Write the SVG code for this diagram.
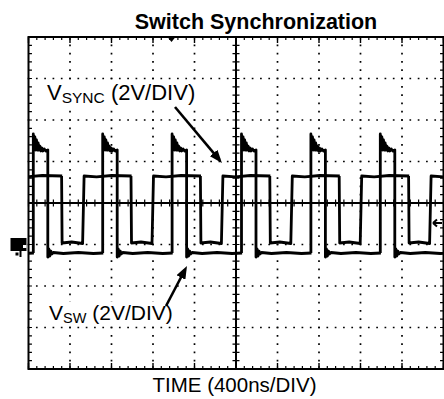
<svg xmlns="http://www.w3.org/2000/svg" xmlns:xlink="http://www.w3.org/1999/xlink" width="444" height="399" viewBox="0 0 444 399">
<style>
.txt{font-family:"Liberation Sans",Arial,sans-serif;fill:#000}
.bord{stroke:#000;stroke-width:2;fill:none}
.dot{stroke:#000;stroke-width:1.7;stroke-dasharray:1.7 6.6;fill:none}
.tick{stroke:#000;stroke-dasharray:1.2 7.1;fill:none}
.maj{stroke:#000;stroke-dasharray:1.4 40.1;fill:none}
.tr{stroke:#000;stroke-width:2.8;fill:none;stroke-linejoin:round}
.conn{stroke:#000;stroke-width:2.6;fill:none}
.bg{fill:#fff}
</style>
<defs>
<clipPath id="scr"><rect x="29" y="30" width="415" height="340"/></clipPath>
<path id="swp" d="M0,253 V134 L0.8,148 L1.6,137 L2.4,150 L3.2,140 L4,150 L4.8,143 L5.6,150 L6.6,146 L7.6,151 L8.6,148 L9.6,151 L11,149 L12.5,151 L14.5,150 L14.5,257 L15.5,249 L16.5,256 L17.5,251 L18.5,254 L20,252.5 L30,253.5 L45,252.5 L60,253.5 L70,253"/>
<path id="syp" d="M0,176 L0.5,243 L10,242 L21,243.5 L22.5,176 L35,176.8 L50,175.5 L70,176"/>
<marker id="ah" viewBox="0 0 13 10" markerWidth="13" markerHeight="10" refX="9" refY="5" orient="auto" markerUnits="userSpaceOnUse">
<path d="M0,0 L13,5 L0,10 z" fill="#000"/>
</marker>
</defs>
<rect x="0" y="0" width="444" height="399" fill="#fff"/>
<g id="graticule">
<g id="grid-dots">
<line class="dot" x1="27.65" y1="78.5" x2="444" y2="78.5"/>
<line class="dot" x1="27.65" y1="120" x2="444" y2="120"/>
<line class="dot" x1="27.65" y1="161.5" x2="444" y2="161.5"/>
<line class="dot" x1="27.65" y1="244.5" x2="444" y2="244.5"/>
<line class="dot" x1="27.65" y1="286" x2="444" y2="286"/>
<line class="dot" x1="27.65" y1="327.5" x2="444" y2="327.5"/>
<line class="dot" x1="70" y1="36.15" x2="70" y2="369"/>
<line class="dot" x1="111.5" y1="36.15" x2="111.5" y2="369"/>
<line class="dot" x1="153" y1="36.15" x2="153" y2="369"/>
<line class="dot" x1="194.5" y1="36.15" x2="194.5" y2="369"/>
<line class="dot" x1="277.5" y1="36.15" x2="277.5" y2="369"/>
<line class="dot" x1="319" y1="36.15" x2="319" y2="369"/>
<line class="dot" x1="360.5" y1="36.15" x2="360.5" y2="369"/>
<line class="dot" x1="402" y1="36.15" x2="402" y2="369"/>
</g>
<g id="border">
<path class="bord" d="M28.5,37 H443.5 V369 H28.5 Z"/>
<line class="tick" stroke-width="3" x1="27.9" y1="38.5" x2="444" y2="38.5"/>
<line class="maj" stroke-width="6" x1="27.8" y1="40" x2="444" y2="40"/>
<line class="tick" stroke-width="3" x1="27.9" y1="367.5" x2="444" y2="367.5"/>
<line class="maj" stroke-width="6" x1="27.8" y1="366" x2="444" y2="366"/>
<line class="tick" stroke-width="3.5" x1="30.2" y1="36.4" x2="30.2" y2="370"/>
<line class="tick" stroke-width="3.5" x1="441.8" y1="36.4" x2="441.8" y2="370"/>
</g>
<g id="center-axes">
<line class="bord" x1="236" y1="37" x2="236" y2="369"/>
<line class="bord" x1="28.5" y1="203" x2="443.5" y2="203"/>
<line class="tick" stroke-width="7" x1="236" y1="36.4" x2="236" y2="370"/>
<line class="tick" stroke-width="7" x1="27.9" y1="203" x2="444" y2="203"/>
</g>
<g id="markers">
<polygon points="167.5,37 175.5,37 171.5,42" fill="#000"/>
<rect x="10.5" y="238" width="16" height="13" fill="#000"/>
<rect x="23" y="245" width="3.5" height="3" fill="#fff"/>
<rect x="15.5" y="252.5" width="3" height="3" fill="#000"/>
<rect x="19.5" y="251" width="2" height="6" fill="#000"/>
<path d="M433,223 L437,219.5 M433,223 L437,226.5 M433,223 H442" stroke="#000" stroke-width="2" fill="none"/>
</g>
</g>
<g id="traces" clip-path="url(#scr)">
<g id="vsync-trace" class="tr">
<use xlink:href="#syp" x="-7.8"/>
<use xlink:href="#syp" x="61.6"/>
<use xlink:href="#syp" x="131"/>
<use xlink:href="#syp" x="200.4"/>
<use xlink:href="#syp" x="269.8"/>
<use xlink:href="#syp" x="339.2"/>
<use xlink:href="#syp" x="408.6"/>
</g>
<g id="vsw-trace" class="tr">
<use xlink:href="#swp" x="-36.1"/>
<use xlink:href="#swp" x="33.3"/>
<use xlink:href="#swp" x="102.7"/>
<use xlink:href="#swp" x="172.1"/>
<use xlink:href="#swp" x="241.5"/>
<use xlink:href="#swp" x="310.9"/>
<use xlink:href="#swp" x="380.3"/>
</g>
</g>
<g id="title"><text class="txt" x="256" y="28.5" font-size="21.5" font-weight="bold" text-anchor="middle">Switch Synchronization</text></g>
<g id="axis-label"><text class="txt" x="234.5" y="392" font-size="20.5" text-anchor="middle">TIME (400ns/DIV)</text></g>
<g id="label-vsync">
<rect class="bg" x="44" y="82" width="157" height="24"/>
<text class="txt" x="47" y="100" font-size="22">V<tspan font-size="15.5" dy="3">SYNC</tspan><tspan dy="-3"> (2V/DIV)</tspan></text>
</g>
<g id="label-vsw">
<rect class="bg" x="46" y="302" width="130" height="24"/>
<text class="txt" x="49" y="320" font-size="21">V<tspan font-size="14.5" dy="3">SW</tspan><tspan dy="-3"> (2V/DIV)</tspan></text>
</g>
<g id="connectors">
<line class="conn" x1="175" y1="107" x2="219.4" y2="159.9" marker-end="url(#ah)"/>
<line class="conn" x1="166" y1="306" x2="185.1" y2="269.5" marker-end="url(#ah)"/>
</g>
</svg>
